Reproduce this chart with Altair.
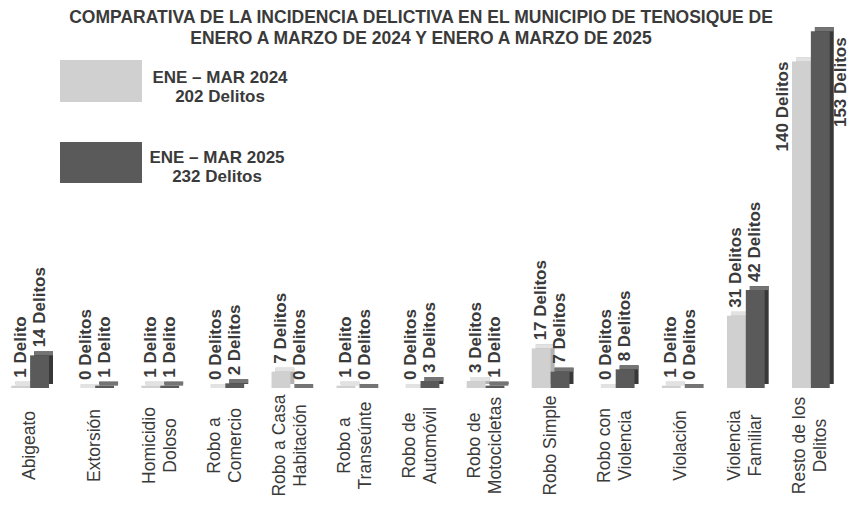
import altair as alt
import pandas as pd

categories = ["Abigeato", "Extorsión", "Homicidio|Doloso", "Robo a|Comercio",
              "Robo a Casa|Habitación", "Robo a|Transeúnte", "Robo de|Automóvil",
              "Robo de|Motocicletas", "Robo Simple", "Robo con|Violencia",
              "Violación", "Violencia|Familiar", "Resto de los|Delitos"]
v2024 = [1, 0, 1, 0, 7, 1, 0, 3, 17, 0, 1, 31, 140]
v2025 = [14, 1, 1, 2, 0, 0, 3, 1, 7, 8, 0, 42, 153]
series = ["ENE – MAR 2024", "ENE – MAR 2025"]
totals = [202, 232]
title_lines = ["COMPARATIVA DE LA INCIDENCIA DELICTIVA EN EL MUNICIPIO DE TENOSIQUE DE",
               "ENERO A MARZO DE 2024 Y ENERO A MARZO DE 2025"]

LIGHT, LIGHT_TOP, LIGHT_SIDE = "#d0d0d0", "#e2e2e2", "#b2b2b2"
DARK, DARK_TOP, DARK_SIDE = "#5a5a5a", "#747474", "#383838"
FONT = "Liberation Sans, Arial, sans-serif"
TXT = "#3a3a3a"

rows = []
for c, a, b in zip(categories, v2024, v2025):
    for s, v in zip(series, (a, b)):
        rows.append({"cat": c, "serie": s, "value": v,
                     "label": f"{v} Delito" if v == 1 else f"{v} Delitos"})
df = pd.DataFrame(rows)

is2024 = f"datum.serie == '{series[0]}'"

W, H = 825, 380
P_IN, P_OUT = 0.42, 0.05
step = W / (len(categories) - P_IN + 2 * P_OUT)
bw = step * (1 - P_IN)
DEPTH = 4

x = alt.X("cat:N", sort=categories,
          scale=alt.Scale(paddingInner=P_IN, paddingOuter=P_OUT),
          axis=alt.Axis(title=None, labelExpr="split(datum.label, '|')",
                        labelAngle=270, labelAlign="center", labelBaseline="middle",
                        labelPadding=57, ticks=False, domain=False, labelOverlap=False,
                        labelFont=FONT, labelFontSize=17.5, labelColor=TXT,
                        labelLineHeight=21, labelBound=False,
                        labelOffset={"condition": {"test": "indexof(datum.value, '|') >= 0",
                                                   "value": -10.5}, "value": 0}))
xo = alt.XOffset("serie:N",
                 scale=alt.Scale(type="band", domain=series, paddingInner=0, paddingOuter=0))
xo_shift = alt.XOffset("serie:N",
                       scale=alt.Scale(type="band", domain=series, range=[DEPTH, bw + DEPTH],
                                       paddingInner=0, paddingOuter=0))
y = alt.Y("value:Q", scale=alt.Scale(domain=[0, 163]), axis=None)

base = alt.Chart(df).encode(x=x)

side = base.mark_bar(yOffset=-DEPTH, y2Offset=-DEPTH).encode(
    xOffset=xo_shift, y=y,
    color=alt.condition(is2024, alt.value(LIGHT_SIDE), alt.value(DARK_SIDE)))
top = base.mark_bar(yOffset=-DEPTH).encode(
    xOffset=xo_shift, y=y, y2=alt.Y2("value:Q"),
    color=alt.condition(is2024, alt.value(LIGHT_TOP), alt.value(DARK_TOP)))
front = base.mark_bar().encode(
    xOffset=xo, y=y, color=alt.condition(is2024, alt.value(LIGHT), alt.value(DARK)))

last = categories[-1]
lbl_kw = dict(angle=270, baseline="middle", font=FONT, fontSize=17,
              fontWeight="bold", color=TXT)
labels = base.mark_text(align="left", dx=8, **lbl_kw).encode(
    xOffset=xo, y=y, text="label:N").transform_filter(f"datum.cat != '{last}'")
lab_r1 = base.mark_text(align="right", dx=0, dy=-18, **lbl_kw).encode(
    xOffset=xo, y=y, text="label:N").transform_filter(
    f"datum.cat == '{last}' && datum.serie == '{series[0]}'")
lab_r2 = base.mark_text(align="right", dx=-6, dy=21, **lbl_kw).encode(
    xOffset=xo, y=y, text="label:N").transform_filter(
    f"datum.cat == '{last}' && datum.serie == '{series[1]}'")

tkw = dict(font=FONT, fontSize=17.5, fontWeight="bold", color=TXT, align="center",
           baseline="middle")
title1 = alt.Chart(pd.DataFrame({"t": [title_lines[0]]})).mark_text(**tkw).encode(
    x=alt.value(413), y=alt.value(10), text="t:N")
title2 = alt.Chart(pd.DataFrame({"t": [title_lines[1]]})).mark_text(**tkw).encode(
    x=alt.value(413), y=alt.value(31), text="t:N")

leg1 = pd.DataFrame({"txt": [f"{series[0]}\n{totals[0]} Delitos"]})
leg2 = pd.DataFrame({"txt": [f"{series[1]}\n{totals[1]} Delitos"]})
box1 = alt.Chart(leg1).mark_rect(color=LIGHT).encode(
    x=alt.value(52), x2=alt.value(134), y=alt.value(52), y2=alt.value(94))
box2 = alt.Chart(leg2).mark_rect(color=DARK).encode(
    x=alt.value(52), x2=alt.value(134), y=alt.value(134), y2=alt.value(175))
leg_kw = dict(font=FONT, fontSize=17, fontWeight="bold", color=TXT, align="center",
              baseline="middle", lineBreak="\n", lineHeight=19)
lt1 = alt.Chart(leg1).mark_text(**leg_kw).encode(
    x=alt.value(212), y=alt.value(70), text="txt:N")
lt2 = alt.Chart(leg2).mark_text(**leg_kw).encode(
    x=alt.value(209), y=alt.value(150), text="txt:N")

chart = alt.layer(side, top, front, labels, lab_r1, lab_r2,
                  title1, title2, box1, box2, lt1, lt2).resolve_scale(
    xOffset="independent").properties(
    width=W, height=H,
    autosize=alt.AutoSizeParams(type="none"),
    padding={"left": 0, "top": 0, "right": 19, "bottom": 110},
    background="white",
).configure_view(stroke=None)

chart.save("out.html", embed_options={"renderer": "svg", "actions": False})
